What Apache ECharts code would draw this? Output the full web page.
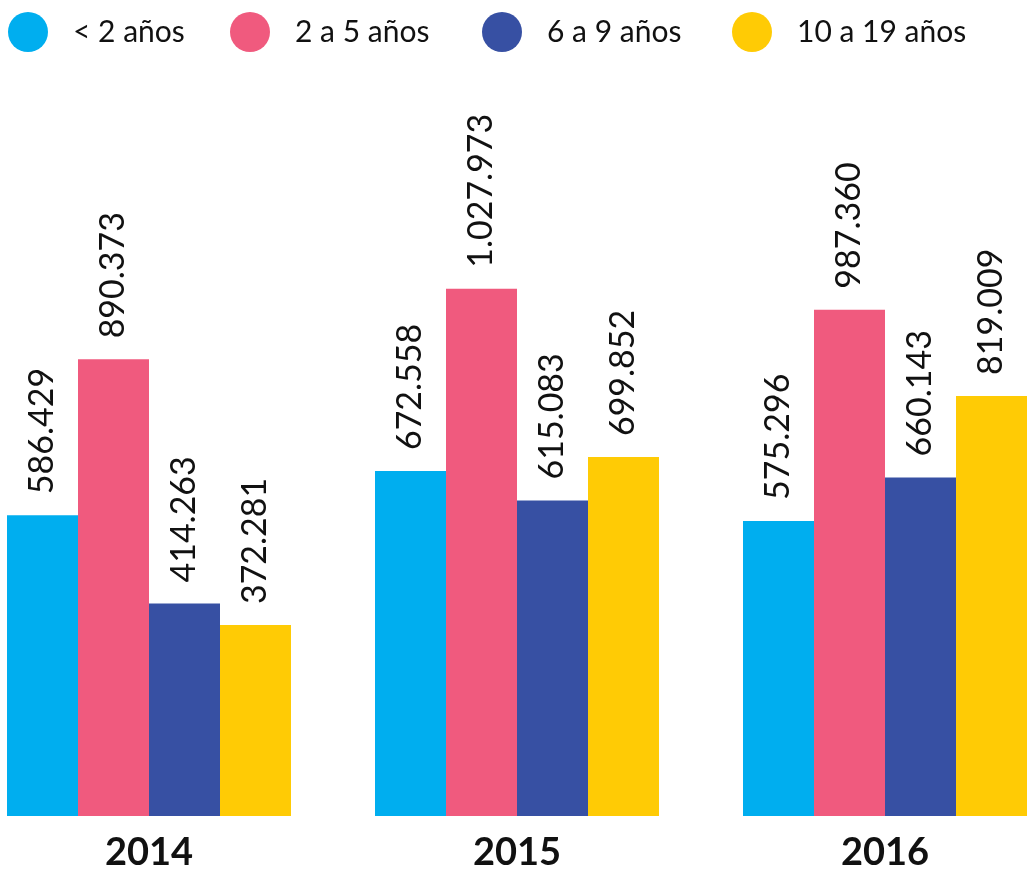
<!DOCTYPE html>
<html>
<head>
<meta charset="utf-8">
<script src="https://cdn.jsdelivr.net/npm/echarts@6/dist/echarts.min.js"></script>
<style>html,body{margin:0;padding:0;background:#fff}#c{width:1029px;height:874px}</style>
</head>
<body>
<div id="c"></div>
<script>
const categories = ['2014', '2015', '2016'];
const seriesNames = ['< 2 años', '2 a 5 años', '6 a 9 años', '10 a 19 años'];
const under2 = [586429, 672558, 575296];
const from2to5 = [890373, 1027973, 987360];
const from6to9 = [414263, 615083, 660143];
const from10to19 = [372281, 699852, 819009];
const colors = ['#00AEEF', '#F05A7E', '#3750A3', '#FFCB05'];
const legendLeft = [8, 230, 482, 732];

const values = [under2, from2to5, from6to9, from10to19];
const FONT = 'Lato';

function fmt(v) {
  return String(v).replace(/\B(?=(\d{3})+(?!\d))/g, '.');
}

const chart = echarts.init(document.getElementById('c'));
chart.setOption({
  backgroundColor: '#ffffff',
  animation: false,
  legend: seriesNames.map((n, i) => ({
    data: [n],
    left: legendLeft[i],
    top: 12,
    padding: 0,
    icon: 'circle',
    itemWidth: 40,
    itemHeight: 40,
    selectedMode: false,
    textStyle: { fontFamily: FONT, fontSize: 30, color: '#111', padding: [4, 0, 0, 20] }
  })),
  grid: { left: -35, width: 1104, top: 98, bottom: 58, outerBoundsMode: 'none', containLabel: false },
  xAxis: {
    type: 'category',
    data: categories,
    axisLine: { show: false },
    axisTick: { show: false },
    axisLabel: { fontFamily: FONT, fontSize: 38, fontWeight: 'bold', color: '#111', margin: 18 }
  },
  yAxis: {
    type: 'value',
    min: 0,
    max: 1400000,
    show: false,
    splitLine: { show: false }
  },
  series: seriesNames.map((n, i) => ({
    name: n,
    type: 'bar',
    data: values[i],
    barWidth: 71,
    barGap: '0%',
    itemStyle: { color: colors[i] },
    label: {
      show: true,
      position: 'top',
      rotate: 90,
      align: 'left',
      verticalAlign: 'middle',
      distance: 21,
      fontFamily: FONT,
      fontSize: 34,
      color: '#111',
      formatter: p => fmt(p.value)
    }
  }))
});
</script>
</body>
</html>
